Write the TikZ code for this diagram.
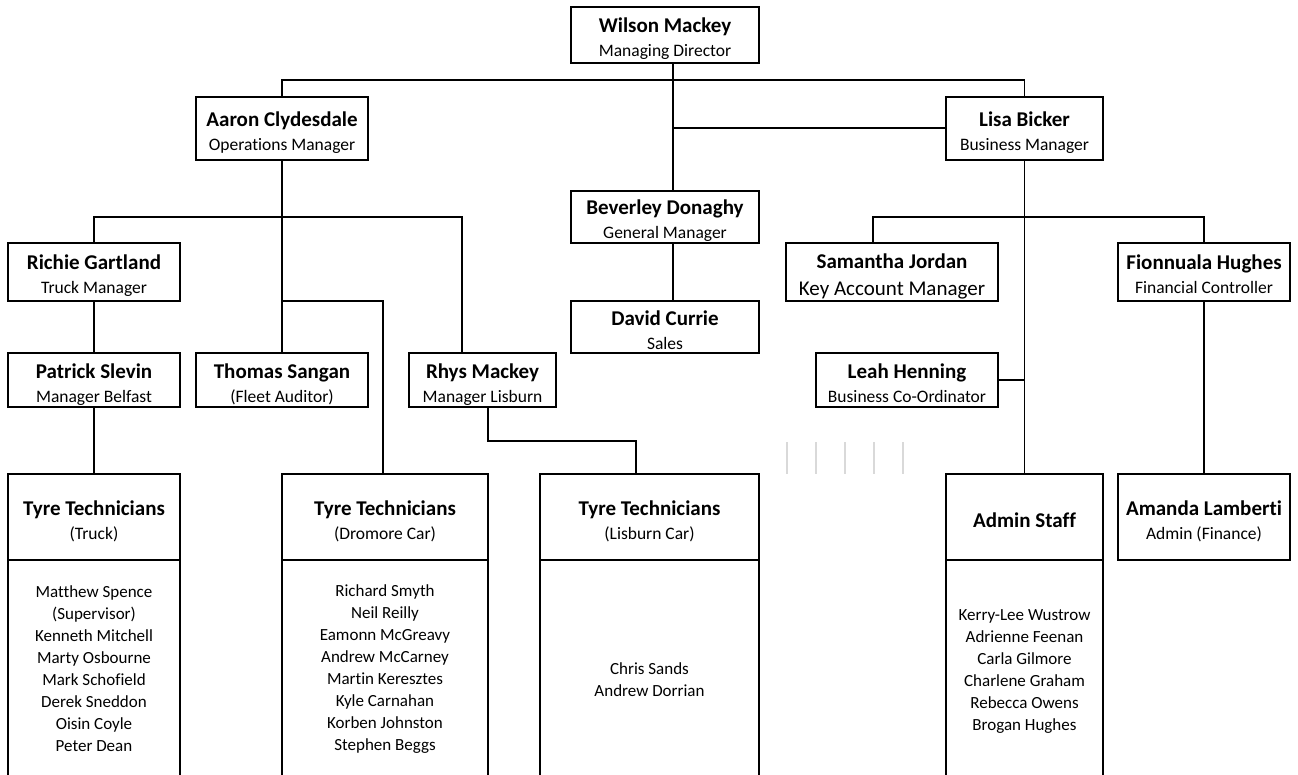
\documentclass[tikz,border=0pt]{standalone}
\usepackage{fontspec}
\setmainfont{Carlito}[Ligatures=NoCommon]
\newcommand{\nm}[1]{{\bfseries\fontsize{21}{24}\selectfont\rule{0pt}{24pt}#1}}
\newcommand{\tl}[1]{#1\rule[-4pt]{0pt}{4pt}}
\begin{document}
\begin{tikzpicture}[x=1pt,y=-1pt,
  box/.style={draw, line width=2pt, rectangle, inner sep=0pt, align=center,
    font=\fontsize{17.5}{24}\selectfont},
  listbox/.style={draw, line width=2pt, rectangle, inner sep=0pt, align=center,
    font=\fontsize{17}{22}\selectfont},
  listtext/.style={inner sep=0pt, align=center, font=\fontsize{17}{22}\selectfont},
  conn/.style={line width=1.8pt, line join=miter},
  faint/.style={line width=1.2pt, draw=black!15}]
\useasboundingbox (0,0) rectangle (1298,775);
\fill[white] (0,0) rectangle (1298,775);

% top level
\node[box, minimum width=188pt, minimum height=56pt] (wilson) at (665,35) {\nm{Wilson Mackey}\\\tl{Managing Director}};
\node[box, minimum width=172pt, minimum height=63pt] (aaron) at (282,128.5) {\nm{Aaron Clydesdale}\\\tl{Operations Manager}};
\node[box, minimum width=157pt, minimum height=63pt] (lisa) at (1024.5,128.5) {\nm{Lisa Bicker}\\\tl{Business Manager}};
\node[box, minimum width=188pt, minimum height=52pt] (beverley) at (665,217) {\nm{Beverley Donaghy}\\\tl{General Manager}};
\node[box, minimum width=188pt, minimum height=52pt] (david) at (665,327) {\nm{David Currie}\\\tl{Sales}};

% operations
\node[box, minimum width=172pt, minimum height=58pt] (richie) at (94,272) {\nm{Richie Gartland}\\\tl{Truck Manager}};
\node[box, minimum width=172pt, minimum height=54pt] (patrick) at (94,380) {\nm{Patrick Slevin}\\\tl{Manager Belfast}};
\node[box, minimum width=172pt, minimum height=54pt] (thomas) at (282,380) {\nm{Thomas Sangan}\\\tl{(Fleet Auditor)}};
\node[box, minimum width=147pt, minimum height=54pt] (rhys) at (482.5,380) {\nm{Rhys Mackey}\\\tl{Manager Lisburn}};

% business
\node[box, minimum width=212pt, minimum height=58pt, font=\fontsize{21}{27}\selectfont] (samantha) at (892,272) {\nm{Samantha Jordan}\\\tl{Key Account Manager}};
\node[box, minimum width=172pt, minimum height=58pt] (fionnuala) at (1204,272) {\nm{Fionnuala Hughes}\\\tl{Financial Controller}};
\node[box, minimum width=182pt, minimum height=54pt] (leah) at (907,380) {\nm{Leah Henning}\\\tl{Business Co-Ordinator}};

% team boxes
\node[box, minimum width=172pt, minimum height=86pt] (truckh) at (94,517) {\nm{Tyre Technicians}\\\tl{(Truck)}};
\node[listbox, minimum width=172pt, minimum height=218pt] (truckb) at (94,669) {Matthew Spence\\(Supervisor)\\Kenneth Mitchell\\Marty Osbourne\\Mark Schofield\\Derek Sneddon\\Oisin Coyle\\Peter Dean};

\node[box, minimum width=206pt, minimum height=86pt] (dromh) at (385,517) {\nm{Tyre Technicians}\\\tl{(Dromore Car)}};
\node[listbox, minimum width=206pt, minimum height=218pt] (dromb) at (385,669) {Richard Smyth\\Neil Reilly\\Eamonn McGreavy\\Andrew McCarney\\Martin Keresztes\\Kyle Carnahan\\Korben Johnston\\Stephen Beggs};

\node[box, minimum width=219pt, minimum height=86pt] (lisbh) at (649.5,517) {\nm{Tyre Technicians}\\\tl{(Lisburn Car)}};
\node[listbox, minimum width=219pt, minimum height=218pt] (lisbb) at (649.5,669) {};
\node[listtext] (lisbt) at (649.5,680) {Chris Sands\\Andrew Dorrian};

\node[box, minimum width=157pt, minimum height=86pt] (adminh) at (1024.5,517) {\nm{\tl{Admin Staff}}};
\node[listbox, minimum width=157pt, minimum height=218pt] (adminb) at (1024.5,669) {};
\node[listtext] (admint) at (1024.5,671.5) {Kerry-Lee Wustrow\\Adrienne Feenan\\Carla Gilmore\\Charlene Graham\\Rebecca Owens\\Brogan Hughes};

\node[box, minimum width=172pt, minimum height=86pt] (amanda) at (1204,517) {\nm{Amanda Lamberti}\\\tl{Admin (Finance)}};

% helper coordinates
\coordinate (mx) at (673,0);
\coordinate (bar1) at (0,80);
\coordinate (bar2) at (673,128);
\coordinate (bar3) at (0,217);
\coordinate (rx) at (462,0);
\coordinate (dx) at (383,301);
\coordinate (ry) at (488,441);
\coordinate (ly) at (636,441);
\coordinate (sx) at (873,0);

% connectors
\draw[conn] (wilson.south -| mx) -- (beverley.north -| mx);
\draw[conn] (aaron.north) -- (aaron.north |- bar1) -- (lisa.north |- bar1) -- (lisa.north);
\draw[conn] (bar2) -- (lisa.west |- bar2);
\draw[conn] (beverley.south -| mx) -- (david.north -| mx);
\draw[conn] (aaron.south) -- (thomas.north);
\draw[conn] (richie.north) -- (richie.north |- bar3) -- (rx |- bar3) -- (rhys.north -| rx);
\draw[conn] (aaron.south |- dx) -- (dx) -- (dromh.north -| dx);
\draw[conn] (richie.south) -- (patrick.north);
\draw[conn] (patrick.south) -- (truckh.north);
\draw[conn] (rhys.south -| ry) -- (ry) -- (ly) -- (lisbh.north -| ly);
\draw[conn] (lisa.south) -- (adminh.north);
\draw[conn] (samantha.north -| sx) -- (sx |- bar3) -- (fionnuala.north |- bar3) -- (fionnuala.north);
\draw[conn] (leah.east) -- (leah.east -| lisa.south);
\draw[conn] (fionnuala.south) -- (amanda.north);

% faint marks
\foreach \x in {787,816,845,874,903} \draw[faint] (\x,442) -- (\x,474);
\end{tikzpicture}
\end{document}
